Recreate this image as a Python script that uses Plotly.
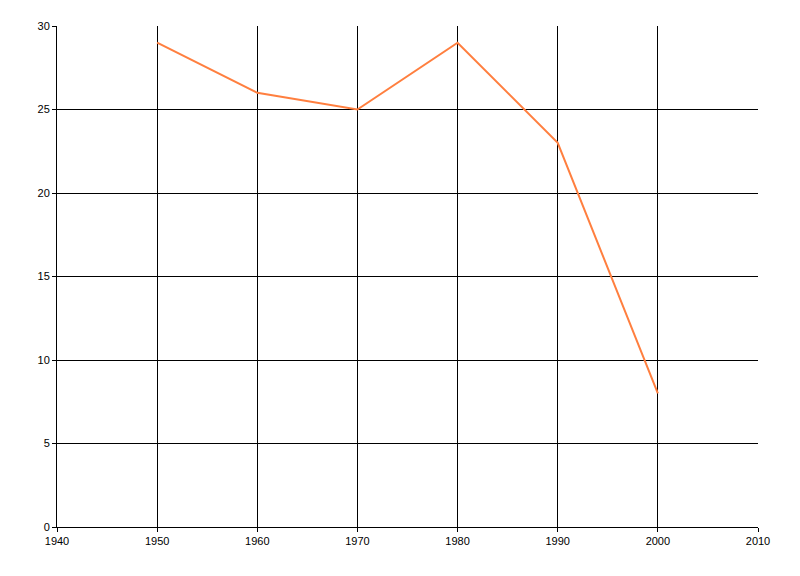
import plotly.graph_objects as go

years = [1950, 1960, 1970, 1980, 1990, 2000]
values = [29, 26, 25, 29, 23, 8]

fig = go.Figure()
fig.add_trace(go.Scatter(x=years, y=values, mode="lines",
                         line=dict(color="#FF7F3F", width=2)))

axis_common = dict(showgrid=True, gridcolor="black", gridwidth=1,
                   showline=True, linecolor="black", linewidth=1,
                   ticks="outside", ticklen=4, tickcolor="black", tickwidth=1,
                   zeroline=False, tickfont=dict(family="Liberation Sans, Arial", size=11, color="black"))

fig.update_xaxes(range=[1940, 2010], tick0=1940, dtick=10, **axis_common)
fig.update_yaxes(range=[0, 30], tick0=0, dtick=5, **axis_common)

fig.update_layout(width=784, height=560, showlegend=False,
                  plot_bgcolor="white", paper_bgcolor="white",
                  margin=dict(l=49, r=34, t=18, b=41))

fig.write_html("out.html")
